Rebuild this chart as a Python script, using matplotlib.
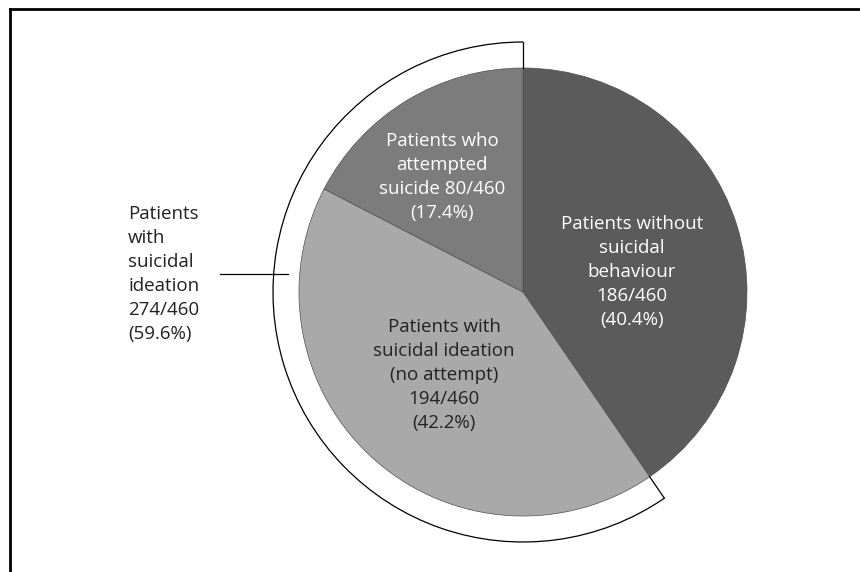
import numpy as np
import matplotlib.pyplot as plt
from matplotlib.patches import Arc

plt.rcParams['font.family'] = ['Open Sans', 'DejaVu Sans']

# data
labels = ["Patients without\nsuicidal\nbehaviour\n186/460\n(40.4%)",
          "Patients with\nsuicidal ideation\n(no attempt)\n194/460\n(42.2%)",
          "Patients who\nattempted\nsuicide 80/460\n(17.4%)"]
counts = [186, 194, 80]
colors = ["#5b5b5b", "#a9a9a9", "#7c7c7c"]
text_colors = ["white", "#222222", "white"]
group_label = "Patients\nwith\nsuicidal\nideation\n274/460\n(59.6%)"

W, H = 860, 572
fig = plt.figure(figsize=(8.6, 5.72), dpi=100)
ax = fig.add_axes([0, 0, 1, 1])

cx, cy, r = 523, H - 292, 224
wedges, _ = ax.pie(counts, colors=colors, startangle=90, counterclock=False,
                   center=(cx, cy), radius=r, frame=True,
                   wedgeprops=dict(edgecolor='#505050', linewidth=0.5))
ax.set_xlim(0, W)
ax.set_ylim(0, H)
ax.set_aspect('equal')
ax.axis('off')

# labels inside slices (positions in pixels from top-left)
label_pos = [(632, 272), (444, 375), (442, 177)]
for lab, (x, y), c in zip(labels, label_pos, text_colors):
    ax.text(x, H - y, lab, ha='center', va='center', color=c,
            fontsize=13.5, linespacing=1.42)

# bracket around the ideation slices
total = sum(counts)
split = 90 - 360 * counts[0] / total
rb = 250
ax.add_patch(Arc((cx, cy), 2 * rb, 2 * rb, theta1=90, theta2=split + 360,
                 color='black', lw=0.9))
for a in (90, split):
    t = np.radians(a)
    ax.plot([cx + r * np.cos(t), cx + rb * np.cos(t)],
            [cy + r * np.sin(t), cy + rb * np.sin(t)], color='black', lw=0.9)

ax.plot([220, 288], [H - 274, H - 274], color='black', lw=0.9)
ax.text(128, H - 274, group_label, ha='left', va='center', color='#222222',
        fontsize=13.5, linespacing=1.42)

# frame (top and left visible)
ax.plot([10, W + 5], [H - 9, H - 9], color='black', lw=2)
ax.plot([10, 10], [H - 9, -5], color='black', lw=2)

fig.savefig('out.png', dpi=100)
